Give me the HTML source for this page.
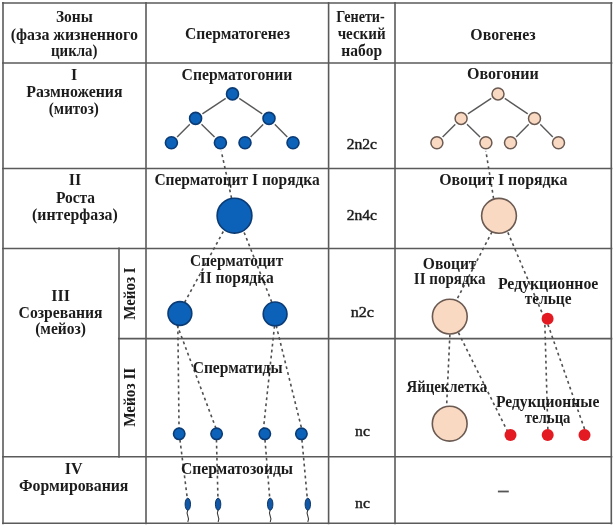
<!DOCTYPE html>
<html><head><meta charset="utf-8"><style>
html,body{margin:0;padding:0;background:#fff;width:614px;height:528px;overflow:hidden}
svg{display:block;will-change:transform;filter:blur(0.3px);font-family:"Liberation Serif",serif}
</style></head><body>
<svg width="614" height="528" viewBox="0 0 614 528">
<rect width="614" height="528" fill="#fff"/>
<g stroke="#5a5a5a" stroke-width="1.6"><line x1="2" y1="3" x2="612.3" y2="3"/><line x1="2" y1="63" x2="612.3" y2="63"/><line x1="2" y1="168.5" x2="612.3" y2="168.5"/><line x1="2" y1="248.5" x2="612.3" y2="248.5"/><line x1="118" y1="338.6" x2="612.3" y2="338.6"/><line x1="2" y1="456.7" x2="612.3" y2="456.7"/><line x1="2" y1="523.3" x2="612.3" y2="523.3"/><line x1="3" y1="2" x2="3" y2="524.3"/><line x1="119" y1="247.5" x2="119" y2="457.7"/><line x1="146" y1="2" x2="146" y2="524.3"/><line x1="328.6" y1="2" x2="328.6" y2="524.3"/><line x1="395" y1="2" x2="395" y2="524.3"/><line x1="611.3" y1="2" x2="611.3" y2="524.3"/></g><g stroke="#505050" stroke-width="1.6" stroke-dasharray="2.8 3.2"><line x1="219.4" y1="142.6" x2="235.4" y2="215.7"/><line x1="231.9" y1="215.7" x2="178.6" y2="313.5"/><line x1="237.5" y1="215.7" x2="276.4" y2="313.9"/><line x1="177.7" y1="313.5" x2="179.1" y2="433.8"/><line x1="172.8" y1="313.5" x2="218" y2="433.8"/><line x1="275.8" y1="313.9" x2="262.9" y2="433.8"/><line x1="273.3" y1="313.9" x2="302.9" y2="433.8"/><line x1="179.2" y1="433.8" x2="188" y2="504"/><line x1="216.3" y1="433.8" x2="218.1" y2="504"/><line x1="264.5" y1="433.8" x2="270.2" y2="504"/><line x1="301.4" y1="433.8" x2="307.8" y2="504"/><line x1="484.5" y1="142.6" x2="496.4" y2="215.8"/><line x1="500.3" y1="215.8" x2="448" y2="316.6"/><line x1="500.8" y1="215.8" x2="544.6" y2="318.8"/><line x1="450.7" y1="316.6" x2="445.8" y2="423.7"/><line x1="450.4" y1="316.6" x2="509.3" y2="434.9"/><line x1="544.7" y1="318.8" x2="548" y2="434.9"/><line x1="545.9" y1="318.8" x2="586.6" y2="434.9"/></g><g stroke="#585858" stroke-width="1.4"><line x1="232.5" y1="93.9" x2="195.6" y2="118.4"/><line x1="232.5" y1="93.9" x2="269" y2="118.4"/><line x1="195.6" y1="118.4" x2="171.4" y2="142.8"/><line x1="195.6" y1="118.4" x2="220.4" y2="142.8"/><line x1="269" y1="118.4" x2="245" y2="142.8"/><line x1="269" y1="118.4" x2="293" y2="142.8"/></g><g fill="#fff"><circle cx="232.5" cy="93.9" r="8.3"/><circle cx="195.6" cy="118.4" r="8.3"/><circle cx="269" cy="118.4" r="8.3"/><circle cx="171.4" cy="142.8" r="8.3"/><circle cx="220.4" cy="142.8" r="8.3"/><circle cx="245" cy="142.8" r="8.3"/><circle cx="293" cy="142.8" r="8.3"/></g><g fill="#0b62b8" stroke="#0b3b75" stroke-width="1.6"><circle cx="232.5" cy="93.9" r="6.0"/><circle cx="195.6" cy="118.4" r="6.0"/><circle cx="269" cy="118.4" r="6.0"/><circle cx="171.4" cy="142.8" r="6.0"/><circle cx="220.4" cy="142.8" r="6.0"/><circle cx="245" cy="142.8" r="6.0"/><circle cx="293" cy="142.8" r="6.0"/></g><g stroke="#585858" stroke-width="1.4"><line x1="498.0" y1="93.9" x2="461.1" y2="118.4"/><line x1="498.0" y1="93.9" x2="534.5" y2="118.4"/><line x1="461.1" y1="118.4" x2="436.9" y2="142.8"/><line x1="461.1" y1="118.4" x2="485.9" y2="142.8"/><line x1="534.5" y1="118.4" x2="510.5" y2="142.8"/><line x1="534.5" y1="118.4" x2="558.5" y2="142.8"/></g><g fill="#fff"><circle cx="498.0" cy="93.9" r="8.3"/><circle cx="461.1" cy="118.4" r="8.3"/><circle cx="534.5" cy="118.4" r="8.3"/><circle cx="436.9" cy="142.8" r="8.3"/><circle cx="485.9" cy="142.8" r="8.3"/><circle cx="510.5" cy="142.8" r="8.3"/><circle cx="558.5" cy="142.8" r="8.3"/></g><g fill="#fad9c2" stroke="#6b5a52" stroke-width="1.5"><circle cx="498.0" cy="93.9" r="6.0"/><circle cx="461.1" cy="118.4" r="6.0"/><circle cx="534.5" cy="118.4" r="6.0"/><circle cx="436.9" cy="142.8" r="6.0"/><circle cx="485.9" cy="142.8" r="6.0"/><circle cx="510.5" cy="142.8" r="6.0"/><circle cx="558.5" cy="142.8" r="6.0"/></g><circle cx="234.5" cy="215.7" r="17.4" fill="#0b62b8" stroke="#0b3b75" stroke-width="1.6"/><circle cx="499" cy="215.8" r="17.4" fill="#fad9c2" stroke="#6b5a52" stroke-width="1.6"/><circle cx="179.9" cy="313.5" r="11.9" fill="#0b62b8" stroke="#0b3b75" stroke-width="1.6"/><circle cx="275.1" cy="313.9" r="11.9" fill="#0b62b8" stroke="#0b3b75" stroke-width="1.6"/><circle cx="179.2" cy="433.8" r="5.7" fill="#0b62b8" stroke="#0b3b75" stroke-width="1.6"/><circle cx="216.6" cy="433.8" r="5.7" fill="#0b62b8" stroke="#0b3b75" stroke-width="1.6"/><circle cx="264.8" cy="433.8" r="5.7" fill="#0b62b8" stroke="#0b3b75" stroke-width="1.6"/><circle cx="301.4" cy="433.8" r="5.7" fill="#0b62b8" stroke="#0b3b75" stroke-width="1.6"/><circle cx="449.8" cy="316.6" r="17.4" fill="#fad9c2" stroke="#6b5a52" stroke-width="1.6"/><circle cx="449.7" cy="423.7" r="17.4" fill="#fad9c2" stroke="#6b5a52" stroke-width="1.6"/><circle cx="547.6" cy="318.8" r="6" fill="#e41a22"/><circle cx="510.5" cy="434.9" r="6" fill="#e41a22"/><circle cx="547.7" cy="434.9" r="6" fill="#e41a22"/><circle cx="584.5" cy="434.9" r="6" fill="#e41a22"/><path d="M187.8 510 q-1.5 3 0 6 q1.5 3 0 6" fill="none" stroke="#3a3a3a" stroke-width="1.1"/><ellipse cx="187.8" cy="504.2" rx="2.7" ry="6" fill="#1258a6" stroke="#0a3566" stroke-width="1"/><path d="M218.1 510 q-1.5 3 0 6 q1.5 3 0 6" fill="none" stroke="#3a3a3a" stroke-width="1.1"/><ellipse cx="218.1" cy="504.2" rx="2.7" ry="6" fill="#1258a6" stroke="#0a3566" stroke-width="1"/><path d="M270.2 510 q-1.5 3 0 6 q1.5 3 0 6" fill="none" stroke="#3a3a3a" stroke-width="1.1"/><ellipse cx="270.2" cy="504.2" rx="2.7" ry="6" fill="#1258a6" stroke="#0a3566" stroke-width="1"/><path d="M307.8 510 q-1.5 3 0 6 q1.5 3 0 6" fill="none" stroke="#3a3a3a" stroke-width="1.1"/><ellipse cx="307.8" cy="504.2" rx="2.7" ry="6" fill="#1258a6" stroke="#0a3566" stroke-width="1"/><line x1="497.9" y1="491.5" x2="508.8" y2="491.5" stroke="#555" stroke-width="1.8"/><g fill="#1c1c1c" font-family="Liberation Serif" text-anchor="middle"><text x="74.3" y="22.2" font-weight="bold" font-size="16" textLength="36.8" lengthAdjust="spacingAndGlyphs">Зоны</text><text x="74.3" y="39.6" font-weight="bold" font-size="16" textLength="127.2" lengthAdjust="spacingAndGlyphs">(фаза жизненного</text><text x="74.25" y="56.0" font-weight="bold" font-size="16" textLength="46.5" lengthAdjust="spacingAndGlyphs">цикла)</text><text x="237.5" y="39.2" font-weight="bold" font-size="16" textLength="105" lengthAdjust="spacingAndGlyphs">Сперматогенез</text><text x="360.5" y="22.0" font-weight="bold" font-size="16" textLength="48.5" lengthAdjust="spacingAndGlyphs">Генети-</text><text x="361.6" y="39.0" font-weight="bold" font-size="16" textLength="47.9" lengthAdjust="spacingAndGlyphs">ческий</text><text x="361.7" y="56.0" font-weight="bold" font-size="16" textLength="40.7" lengthAdjust="spacingAndGlyphs">набор</text><text x="503" y="39.7" font-weight="bold" font-size="16" textLength="65.3" lengthAdjust="spacingAndGlyphs">Овогенез</text><text x="74.2" y="80.0" font-weight="bold" font-size="16">I</text><text x="74.4" y="97.1" font-weight="bold" font-size="16" textLength="96.3" lengthAdjust="spacingAndGlyphs">Размножения</text><text x="73.8" y="114.2" font-weight="bold" font-size="16" textLength="49.9" lengthAdjust="spacingAndGlyphs">(митоз)</text><text x="237" y="79.7" font-weight="bold" font-size="16" textLength="110.8" lengthAdjust="spacingAndGlyphs">Сперматогонии</text><text x="502.9" y="79.0" font-weight="bold" font-size="16" textLength="71.7" lengthAdjust="spacingAndGlyphs">Овогонии</text><text x="75" y="185.3" font-weight="bold" font-size="16">II</text><text x="75.5" y="202.6" font-weight="bold" font-size="16" textLength="39.2" lengthAdjust="spacingAndGlyphs">Роста</text><text x="74.9" y="219.8" font-weight="bold" font-size="16" textLength="85.6" lengthAdjust="spacingAndGlyphs">(интерфаза)</text><text x="237.1" y="184.8" font-weight="bold" font-size="16" textLength="165.4" lengthAdjust="spacingAndGlyphs">Сперматоцит I порядка</text><text x="503.3" y="184.6" font-weight="bold" font-size="16" textLength="128.2" lengthAdjust="spacingAndGlyphs">Овоцит I порядка</text><text x="60.6" y="301.1" font-weight="bold" font-size="16">III</text><text x="60.6" y="317.7" font-weight="bold" font-size="16" textLength="84" lengthAdjust="spacingAndGlyphs">Созревания</text><text x="60.6" y="334.3" font-weight="bold" font-size="16" textLength="50.8" lengthAdjust="spacingAndGlyphs">(мейоз)</text><text x="236.7" y="265.7" font-weight="bold" font-size="16" textLength="93.2" lengthAdjust="spacingAndGlyphs">Сперматоцит</text><text x="236.65" y="282.7" font-weight="bold" font-size="16" textLength="74.1" lengthAdjust="spacingAndGlyphs">II порядка</text><text x="449.65" y="269.1" font-weight="bold" font-size="16" textLength="53.7" lengthAdjust="spacingAndGlyphs">Овоцит</text><text x="449.65" y="283.7" font-weight="bold" font-size="16" textLength="71.7" lengthAdjust="spacingAndGlyphs">II порядка</text><text x="548.1" y="288.7" font-weight="bold" font-size="16" textLength="100.4" lengthAdjust="spacingAndGlyphs">Редукционное</text><text x="548.15" y="303.6" font-weight="bold" font-size="16" textLength="46.7" lengthAdjust="spacingAndGlyphs">тельце</text><text x="237.65" y="372.7" font-weight="bold" font-size="16" textLength="89.9" lengthAdjust="spacingAndGlyphs">Сперматиды</text><text x="446.8" y="392.0" font-weight="bold" font-size="16" textLength="80.6" lengthAdjust="spacingAndGlyphs">Яйцеклетка</text><text x="547.65" y="406.7" font-weight="bold" font-size="16" textLength="103.3" lengthAdjust="spacingAndGlyphs">Редукционные</text><text x="547.65" y="422.6" font-weight="bold" font-size="16" textLength="45.7" lengthAdjust="spacingAndGlyphs">тельца</text><text x="73.7" y="473.9" font-weight="bold" font-size="16">IV</text><text x="73.7" y="491.3" font-weight="bold" font-size="16" textLength="109.4" lengthAdjust="spacingAndGlyphs">Формирования</text><text x="237" y="473.9" font-weight="bold" font-size="16" textLength="112.2" lengthAdjust="spacingAndGlyphs">Сперматозоиды</text><text x="361.8" y="148.9" font-weight="normal" font-size="15.5" textLength="30.3" lengthAdjust="spacingAndGlyphs" stroke="#1c1c1c" stroke-width="0.45">2n2c</text><text x="361.8" y="219.5" font-weight="normal" font-size="15.5" textLength="30.3" lengthAdjust="spacingAndGlyphs" stroke="#1c1c1c" stroke-width="0.45">2n4c</text><text x="362.35" y="316.9" font-weight="normal" font-size="15.5" textLength="23.3" lengthAdjust="spacingAndGlyphs" stroke="#1c1c1c" stroke-width="0.45">n2c</text><text x="362.5" y="436" font-weight="normal" font-size="15.5" textLength="14.8" lengthAdjust="spacingAndGlyphs" stroke="#1c1c1c" stroke-width="0.45">nc</text><text x="362.5" y="507.7" font-weight="normal" font-size="15.5" textLength="14.8" lengthAdjust="spacingAndGlyphs" stroke="#1c1c1c" stroke-width="0.45">nc</text><text transform="translate(135.3 293.6) rotate(-90)" x="0" y="0" font-weight="bold" font-size="16" textLength="52.2" lengthAdjust="spacingAndGlyphs">Мейоз I</text><text transform="translate(135 397.3) rotate(-90)" x="0" y="0" font-weight="bold" font-size="16" textLength="59.1" lengthAdjust="spacingAndGlyphs">Мейоз II</text></g>
</svg>
</body></html>
